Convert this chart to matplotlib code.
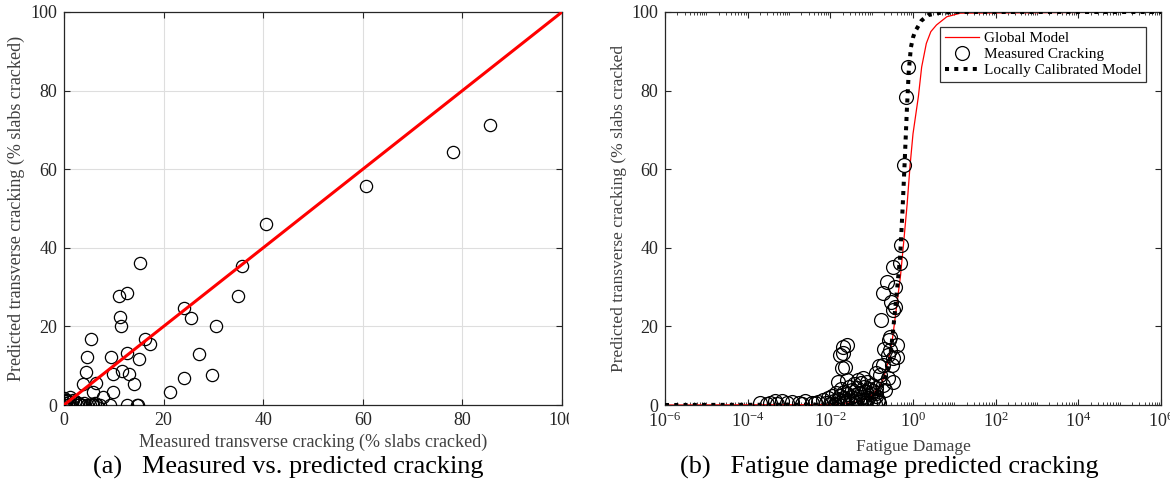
import numpy as np
import matplotlib
import matplotlib.pyplot as plt
from matplotlib.transforms import Bbox, TransformedBbox

plt.rcParams['font.family'] = ['Liberation Serif', 'DejaVu Serif']
plt.rcParams['mathtext.fontset'] = 'custom'
plt.rcParams['mathtext.rm'] = 'Liberation Serif'
plt.rcParams['axes.unicode_minus'] = False

# (a) measured vs predicted cracking (% slabs cracked)
meas_a = [85.6, 78.2, 60.6, 40.5, 35.8, 35.0, 24.0, 25.5, 30.5, 27.2, 29.7, 24.1, 21.2,
          15.3, 11.1, 12.7, 11.3, 11.5, 5.4, 16.3, 17.3, 12.7, 4.7, 9.4, 15.0,
          4.4, 9.8, 11.6, 13.1, 3.8, 6.4, 14.1, 9.9, 5.8, 7.9,
          0.2, 0.9, 1.5, 2.6, 3.6, 4.6, 5.2, 5.9, 6.6, 7.2, 9.2, 12.7, 14.6, 14.9,
          0.0, 1.2, 1.9, 0.5, 2.8, 0.3, 1.0, 3.3, 4.1, 5.6, 6.2, 0.7, 2.2]
pred_a = [71.2, 64.5, 55.6, 46.0, 35.4, 27.8, 24.6, 22.2, 20.0, 12.9, 7.7, 6.8, 3.4,
          36.2, 27.7, 28.6, 22.3, 20.1, 16.8, 16.8, 15.5, 13.2, 12.1, 12.1, 11.8,
          8.5, 7.9, 8.7, 7.9, 5.3, 5.5, 5.3, 3.4, 3.4, 2.1,
          0.0, 0.0, 0.0, 0.0, 0.0, 0.0, 0.0, 0.0, 0.0, 0.0, 0.0, 0.0, 0.0, 0.0,
          1.8, 2.1, 1.3, 0.9, 0.6, 0.4, 0.7, 0.3, 0.5, 0.2, 0.4, 1.2, 1.0]
line_a = [0, 100]

# (b) fatigue damage vs cracking
fd_meas = [0.74, 0.66, 0.59, 0.50, 0.49, 0.33, 0.23, 0.36, 0.19, 0.30, 0.36, 0.33, 0.17,
           0.28, 0.41, 0.25, 0.33, 0.41, 0.19, 0.31, 0.16, 0.25, 0.19, 0.33, 0.13, 0.21, 0.14,
           0.28, 0.27, 0.20, 0.15, 0.13,
           0.025, 0.020, 0.017, 0.023, 0.015, 0.025, 0.020, 0.019,
           2.0e-4, 3.5e-4, 5.1e-4, 6.9e-4, 8.9e-4, 1.7e-3, 2.5e-3, 3.6e-3, 5.0e-3, 6.6e-3,
           3.0e-4, 4.5e-4, 1.2e-3, 2.1e-3, 4.2e-3,
           0.008, 0.009, 0.010, 0.011, 0.012, 0.013, 0.014, 0.015, 0.016, 0.017, 0.018, 0.019,
           0.021, 0.022, 0.023, 0.025, 0.026, 0.028, 0.030, 0.031, 0.033, 0.035, 0.037, 0.039,
           0.041, 0.043, 0.045, 0.048, 0.050, 0.052, 0.055, 0.058, 0.061, 0.064, 0.067, 0.070,
           0.074, 0.078, 0.082, 0.086, 0.090, 0.095, 0.100, 0.105, 0.110, 0.118, 0.125, 0.130,
           0.140, 0.150]
crk_meas = [86.0, 78.4, 61.0, 40.7, 36.1, 35.2, 31.4, 30.1, 28.4, 26.3, 25.0, 24.2, 21.6,
            14.0, 15.3, 12.7, 11.9, 12.3, 10.2, 10.2, 7.6, 6.9, 5.1, 5.9, 3.0, 3.8, 1.3,
            17.4, 16.6, 14.2, 9.8, 8.1,
            15.3, 14.8, 12.7, 9.7, 5.9, 6.4, 13.2, 9.4,
            0.4, 0.6, 0.3, 1.0, 0.5, 0.4, 1.0, 0.6, 0.8, 1.2,
            0.2, 1.1, 0.7, 0.3, 0.5,
            0.5, 1.8, 0.3, 2.4, 1.0, 0.2, 3.1, 1.5, 0.6, 2.2, 4.0, 0.9,
            1.9, 3.4, 0.4, 2.7, 1.2, 4.6, 0.7, 2.0, 3.8, 1.1, 5.3, 2.6,
            0.5, 4.2, 1.6, 6.4, 3.0, 0.8, 5.6, 2.1, 6.9, 1.3, 4.7, 0.4,
            3.3, 5.9, 1.8, 4.0, 0.6, 2.7, 5.0, 1.2, 3.6, 0.3, 2.3, 4.4,
            1.0, 0.5]

fd_global = [1e-6, 1e-2, 0.05, 0.10, 0.15, 0.19, 0.25, 0.32, 0.40, 0.50, 0.59, 0.72, 0.85,
             1.0, 1.35, 1.62, 2.1, 2.7, 3.7, 6.6, 14, 1e6]
crk_global = [0, 0.1, 0.8, 2.5, 4.5, 6.5, 11, 17, 25, 33, 41, 51, 61,
              69, 78.5, 86, 92, 95, 96.7, 98.8, 99.7, 100]

fd_local = [1e-6, 1e-2, 0.06, 0.13, 0.18, 0.25, 0.28, 0.33, 0.40, 0.49, 0.56, 0.63,
            0.71, 0.79, 0.89, 1.0, 1.12, 1.6, 2.3, 4.5, 10, 1e6]
crk_local = [0, 0.1, 0.6, 2.5, 5, 9, 12, 19, 28, 38, 50, 62,
             75, 85, 91, 93.5, 95, 97.8, 99.2, 99.8, 100, 100]

tick_col = '#262626'
lab_col = '#404040'

fig = plt.figure(figsize=(11.7, 4.91), dpi=100)

# ---------- (a) ----------
ax1 = fig.add_axes([64 / 1170, 86 / 491, 498 / 1170, 393 / 491])
ax1.plot(meas_a, pred_a, 'o', mfc='none', mec='black', ms=8.8, mew=0.9, zorder=3)
ax1.plot(line_a, line_a, '-', color='red', lw=2.2, zorder=4)
ax1.set_xlim(0, 100)
ax1.set_ylim(0, 100)
ax1.set_xticks([0, 20, 40, 60, 80, 100])
ax1.set_yticks([0, 20, 40, 60, 80, 100])
ax1.grid(True, color='#dedede', lw=0.8)
ax1.set_axisbelow(True)
ax1.tick_params(direction='in', length=4, width=0.8, top=True, right=True,
                labelsize=13, colors=tick_col, pad=5)
ax1.set_xlabel('Measured transverse cracking (% slabs cracked)', fontsize=13, color=lab_col)
ax1.set_ylabel('Predicted transverse cracking (% slabs cracked)', fontsize=13, color=lab_col)
ax1.xaxis.set_label_coords(0.5, -0.072)
ax1.yaxis.set_label_coords(-0.078, 0.5)
for s in ax1.spines.values():
    s.set_color(tick_col)
    s.set_linewidth(0.9)

# ---------- (b) ----------
ax2 = fig.add_axes([665 / 1170, 86 / 491, 496 / 1170, 393 / 491])
ax2.plot(fd_global, crk_global, '-', color='red', lw=0.9, label='Global Model', zorder=2)
ax2.plot(fd_meas, crk_meas, 'o', mfc='none', mec='black', ms=10, mew=0.9,
         label='Measured Cracking', zorder=3)
ax2.plot(fd_local, crk_local, color='black', lw=2.9, linestyle=(0, (1, 1.3)),
         dash_capstyle='butt', label='Locally Calibrated Model', zorder=4)
ax2.set_xscale('log')
ax2.set_xlim(1e-6, 1e6)
ax2.set_ylim(0, 100)
ax2.set_xticks([1e-6, 1e-4, 1e-2, 1e0, 1e2, 1e4, 1e6])
ax2.xaxis.set_minor_locator(matplotlib.ticker.LogLocator(base=10, subs=np.arange(1, 10), numticks=100))
ax2.xaxis.set_minor_formatter(matplotlib.ticker.NullFormatter())
ax2.set_yticks([0, 20, 40, 60, 80, 100])
ax2.tick_params(which='both', direction='in', top=True, right=True, colors=tick_col)
ax2.tick_params(which='major', length=4, width=0.8, labelsize=13, pad=5)
ax2.tick_params(which='minor', length=2.2, width=0.6)
ax2.set_xlabel('Fatigue Damage', fontsize=12.5, color=lab_col)
ax2.set_ylabel('Predicted transverse cracking (% slabs cracked', fontsize=12.5, color=lab_col)
ax2.xaxis.set_label_coords(0.5, -0.086)
ax2.yaxis.set_label_coords(-0.077, 0.5)
for s in ax2.spines.values():
    s.set_color(tick_col)
    s.set_linewidth(0.9)
leg = ax2.legend(loc='upper right', bbox_to_anchor=(0.97, 0.962), fontsize=11,
                 frameon=True, fancybox=False, framealpha=1, edgecolor='#333333',
                 handlelength=2.2, handletextpad=0.35, labelspacing=0.15,
                 borderpad=0.3, borderaxespad=0)
leg.get_frame().set_linewidth(0.9)

# captions
fig.text(93 / 1170, 1 - 467 / 491, '(a)   Measured vs. predicted cracking',
         fontsize=18.9, ha='left', va='center', color='black')
fig.text(680 / 1170, 1 - 467 / 491, '(b)   Fatigue damage predicted cracking',
         fontsize=18.9, ha='left', va='center', color='black')

# the last tick label of (a) is cut off in the original
fig.canvas.draw()
last = ax1.xaxis.get_major_ticks()[-1].label1
last.set_clip_box(TransformedBbox(Bbox.from_extents(0, 0, 569 / 1170, 1), fig.transFigure))
last.set_clip_on(True)

fig.savefig('out.png', dpi=100)
